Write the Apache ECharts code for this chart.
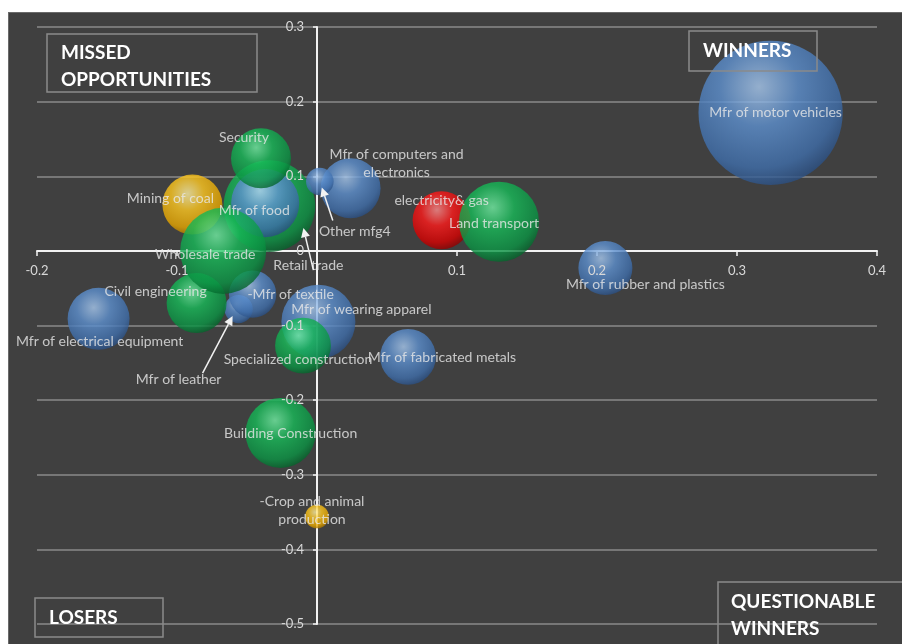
<!DOCTYPE html>
<html><head><meta charset="utf-8">
<script src="https://cdn.jsdelivr.net/npm/echarts@6/dist/echarts.min.js"></script>
<style>
html,body{margin:0;padding:0;background:#fff;width:902px;height:644px;overflow:hidden}
#wrap{position:absolute;left:8px;top:12px;width:894px;height:632px;background:#404040;border-top:1px solid #6a6a6a;border-left:1px solid #6a6a6a;box-sizing:border-box}
#chart{width:893px;height:631px}
</style></head><body><div id="wrap"><div id="chart"></div></div>
<script>
// ---- data (drawing order: first = bottom) ----
const names = ["Mfr of motor vehicles","Mfr of rubber and plastics","Mfr of electrical equipment","-Crop and animal\nproduction","Building Construction","Mfr of fabricated metals","Mfr of leather","Mfr of wearing apparel","Specialized construction","-Mfr of textile","Civil engineering","Mining of coal","Retail trade","Mfr of food","Wholesale trade","Security","Mfr of computers and\nelectronics","Other mfg4","electricity& gas","Land transport"];
const xValues = [0.324,0.206,-0.156,0.000,-0.026,0.065,-0.056,0.001,-0.010,-0.046,-0.086,-0.089,-0.034,-0.037,-0.067,-0.040,0.024,0.002,0.089,0.130];
const yValues = [0.185,-0.023,-0.091,-0.356,-0.244,-0.142,-0.078,-0.095,-0.127,-0.058,-0.070,0.062,0.060,0.064,0.000,0.124,0.084,0.093,0.041,0.039];
const bubbleSize = [52,7.3,9.6,1.4,12.3,7.8,2.0,13.7,7.8,5.6,9,9,21,11.6,18.5,9,9,1.9,8.4,16];
const groups = ["mfg","mfg","mfg","primary","services","mfg","mfg","mfg","services","mfg","services","primary","services","mfg","services","services","mfg","mfg","energy","services"];
const quadrants = ["MISSED\nOPPORTUNITIES","WINNERS","LOSERS","QUESTIONABLE\nWINNERS"];

// ---- style ----
const palette = {
  mfg:["#a9caf0","#5d90cf","#3f6eab","#27497a"],
  services:["#72f0a4","#17ba58","#0a9343","#045a27"],
  energy:["#ff8a8a","#ff1a1a","#d60000","#850000"],
  primary:["#fff1a6","#ffc820","#e6a600","#9c6c00"]
};
function sphere(c){
  return new echarts.graphic.RadialGradient(0.42,0.32,0.72,[
    {offset:0,color:c[0]},{offset:0.38,color:c[1]},{offset:0.78,color:c[2]},{offset:1,color:c[3]}]);
}
const labelOffset = {
  "Mfr of motor vehicles":[5,0],"Land transport":[-5,2],"electricity& gas":[0,-20],
  "Mfr of rubber and plastics":[40,16],"Mfr of computers and\nelectronics":[46,-25],
  "Other mfg4":[35,50],"Security":[-17,-21],"Retail trade":[39,59],"Mfr of food":[-11,7],
  "Mining of coal":[-22,-6],"Wholesale trade":[-18,4],"Civil engineering":[-41,-12],
  "-Mfr of textile":[38,0],"Mfr of wearing apparel":[43,-12],"Specialized construction":[-5,14],
  "Mfr of fabricated metals":[34,1],"Mfr of electrical equipment":[1,23],"Mfr of leather":[-60,70],
  "Building Construction":[10,1],"-Crop and animal\nproduction":[-5,-6]
};
const arrows = {
  "Other mfg4":{from:[13,39],to:[2,6]},
  "Retail trade":{from:[44,64],to:[34,22]},
  "Mfr of leather":{from:[-36,64],to:[-6,7]}
};
const OX=9, OY=13;
const G = {left:37-OX,right:25,top:27-OY,bottom:20,outerBoundsMode:'none',containLabel:false};

const data = names.map((n,i)=>({
  name:n, value:[xValues[i],yValues[i],bubbleSize[i]],
  itemStyle:{color:sphere(palette[groups[i]])},
  label:{offset:labelOffset[n]||[0,0]}
}));

const chart = echarts.init(document.getElementById('chart'));
const fmt = v => { if (Math.abs(v)<1e-9) return '0'; return (+v.toFixed(1)).toString(); };
const axisFont = {color:'#d9d9d9',fontSize:13,fontFamily:'Lato'};
const line = {color:'#f2f2f2',width:2};
const xBase = {type:'value',min:-0.2,max:0.4,interval:0.1,position:'bottom',offset:0};
const yBase = {type:'value',min:-0.5,max:0.3,interval:0.1,position:'left',offset:0};
chart.setOption({
  animation:false,
  backgroundColor:'transparent',
  grid:G,
  xAxis:[
    Object.assign({},xBase,{z:1,axisLine:{onZero:false,lineStyle:line},
      axisTick:{show:true,length:5,lineStyle:{color:'#f2f2f2',width:1.5}},
      axisLabel:{show:false},splitLine:{show:false}}),
    Object.assign({},xBase,{z:10,axisLine:{show:false,onZero:false},axisTick:{show:false},splitLine:{show:false},
      axisLabel:Object.assign({margin:13,formatter:v=>Math.abs(v)<1e-9?'':fmt(v)},axisFont)})
  ],
  yAxis:[
    Object.assign({},yBase,{z:1,axisLine:{onZero:false,lineStyle:line},
      axisTick:{show:true,length:4,lineStyle:{color:'#f2f2f2',width:1.5}},
      axisLabel:{show:false},
      splitLine:{show:true,lineStyle:{color:'#8a8a8a',width:1.5}}}),
    Object.assign({},yBase,{z:10,axisLine:{show:false,onZero:false},axisTick:{show:false},splitLine:{show:false},
      axisLabel:Object.assign({margin:13,formatter:fmt},axisFont)})
  ],
  series:[{type:'scatter',data:data,z:2,
    symbolSize:v=>Math.sqrt(v[2])*20,
    label:{show:true,position:'inside',formatter:p=>p.name,color:'#e8e8e8',
      fontSize:14,fontFamily:'Lato',lineHeight:18,align:'center'},
    emphasis:{disabled:true}}]
});

// move axes so they cross at the data origin
const H = chart.getHeight();
const p0 = chart.convertToPixel({gridIndex:0},[0,0]);
const xo = -((H-G.bottom)-p0[1]), yo = -(p0[0]-G.left);
chart.setOption({
  xAxis:[{offset:xo},{offset:xo}],
  yAxis:[{offset:yo},{offset:yo}]
});

// quadrant boxes + arrows
const g = [];
function box(x,y,w,h,text,tx,ty){
  g.push({type:'rect',z:100,shape:{x:x-OX,y:y-OY,width:w,height:h},
    style:{fill:'transparent',stroke:'#8a8a8a',lineWidth:1.5}});
  g.push({type:'text',z:101,x:tx-OX,y:ty-OY,
    style:{text:text,fill:'#ffffff',font:'bold 19px Lato',lineHeight:27,textVerticalAlign:'top'}});
}
box(47,34,210,58,quadrants[0],61,39);
box(689,31,128,40,quadrants[1],703,37);
box(35,598,128,39,quadrants[2],49,604);
box(718,582,200,80,quadrants[3],731,588);

Object.keys(arrows).forEach(n=>{
  const i = names.indexOf(n);
  const c = chart.convertToPixel({gridIndex:0},[xValues[i],yValues[i]]);
  const a = arrows[n];
  const x1=c[0]+a.from[0], y1=c[1]+a.from[1], x2=c[0]+a.to[0], y2=c[1]+a.to[1];
  const ang = Math.atan2(y2-y1,x2-x1), L=9, W=4.5;
  const bx = x2-L*Math.cos(ang), by = y2-L*Math.sin(ang);
  g.push({type:'line',z:90,shape:{x1:x1,y1:y1,x2:bx,y2:by},style:{stroke:'#f2f2f2',lineWidth:1.5}});
  g.push({type:'polygon',z:90,shape:{points:[[x2,y2],[bx+W*Math.sin(ang),by-W*Math.cos(ang)],[bx-W*Math.sin(ang),by+W*Math.cos(ang)]]},style:{fill:'#f2f2f2'}});
});
chart.setOption({graphic:g});
</script></body></html>
